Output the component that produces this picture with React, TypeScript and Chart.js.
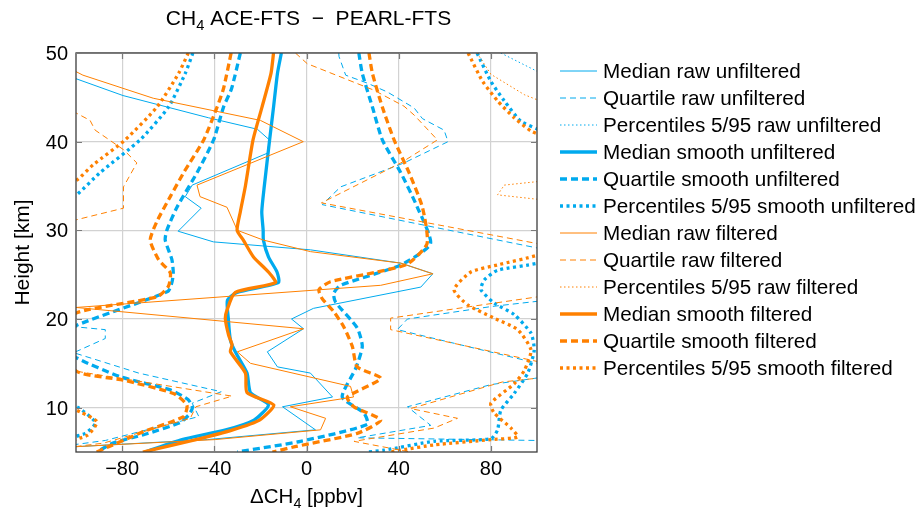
import { useEffect, useRef } from 'react';
import { Chart, registerables } from 'chart.js';
Chart.register(...registerables);

const BLUE = '#00AAEE';
const ORANGE = '#FF8000';
const FONT = '"Liberation Sans", Arial, Helvetica, sans-serif';

const xTickValues = [-80, -40, 0, 40, 80];
const xTickLabels = ['−80', '−40', '0', '40', '80'];
const yTickValues = [10, 20, 30, 40, 50];
const yTickLabels = ['10', '20', '30', '40', '50'];

const legendLabels = [
  'Median raw unfiltered',
  'Quartile raw unfiltered',
  'Percentiles 5/95 raw unfiltered',
  'Median smooth unfiltered',
  'Quartile smooth unfiltered',
  'Percentiles 5/95 smooth unfiltered',
  'Median raw filtered',
  'Quartile raw filtered',
  'Percentiles 5/95 raw filtered',
  'Median smooth filtered',
  'Quartile smooth filtered',
  'Percentiles 5/95 smooth filtered',
];

// ---- Median raw ----
const hMedRawU = [50, 48.0, 47.1, 45.2, 42.7, 41.4, 40.2, 38.7, 35.1, 33.8, 32.5, 29.9, 28.7, 27.8, 26.3, 25.1, 23.6, 21.2, 20.0, 18.9, 16.3, 14.6, 13.9, 11.2, 10.1, 7.5, 6.4, 5.6, 5];
const xMedRawU = [-125, -109.6, -100, -79.6, -42.6, -21.3, -16.1, -17.0, -49.6, -52.6, -45.7, -55.7, -40.4, 1.7, 40.9, 54.8, 49.6, 3.0, -6.5, -1.3, -17.0, -12.6, 1.7, 11.3, -10.4, 3.9, -43.0, -100, -115];
const hMedRawF = [50, 47.9, 47.5, 44.9, 42.4, 40.0, 35.1, 33.8, 32.6, 30.0, 28.9, 27.6, 26.3, 25.1, 23.8, 21.3, 18.9, 16.3, 15.0, 12.4, 11.2, 10.1, 8.8, 7.5, 6.4, 5.6, 5];
const xMedRawF = [-120, -100, -97, -66.5, -20, -1.4, -47.5, -46.2, -34.5, -30, -18.7, 1.7, 40.9, 54.8, 32.2, -100, -1.3, -30, -24.3, 19.1, 20.4, -7, 8.3, 6.1, -39.6, -100, -115];

// ---- Median smooth ----
const hMedSmU = [50, 47.7, 43.9, 40.2, 35, 32.1, 30, 28.9, 27, 25.3, 24.1, 23, 22.1, 20, 17.6, 16.3, 13.9, 11.7, 10.3, 8.6, 7.5, 6.4, 5];
const xMedSmU = [-10.9, -12.6, -14.3, -16, -18.3, -19.4, -18.8, -18.7, -16.5, -12.8, -12.2, -30.1, -34.3, -33.9, -33, -30.9, -25.8, -24.3, -16.5, -22.8, -35, -54, -70];
const hMedSmF = [50, 47.7, 43.9, 40.2, 35, 32.1, 30, 28.9, 27, 25.3, 24.1, 23, 21, 20, 18.2, 17.1, 16.3, 13.9, 11.7, 10.3, 8.6, 7.5, 6.4, 5];
const xMedSmF = [-14.3, -15.4, -19.3, -23.2, -26.5, -28.7, -30.1, -27.4, -23, -16.5, -13.5, -30.9, -34.5, -35.2, -33.8, -32.3, -33, -26.5, -25.8, -14.2, -20.4, -32, -48, -71];

// ---- Quartile smooth (left / right) ----
const hQSmUL = [50, 46, 43.9, 40.2, 36.5, 32.6, 30, 28.9, 26.7, 25.2, 24.1, 23.1, 19.3, 17.5, 15.6, 13.5, 12.0, 10.9, 10.0, 9.2, 8.3, 7.0, 6.0, 5];
const xQSmUL = [-28.7, -32.5, -36, -40.3, -47.5, -56.2, -60.6, -61.3, -58.4, -57.8, -58.4, -60.2, -99.6, -110, -99.6, -80.9, -59.1, -51.3, -49.5, -51, -55, -70, -84, -91];
const hQSmFL = [50, 46, 43.9, 40.2, 36.5, 33.8, 31.0, 28.9, 26.7, 25.2, 23.7, 22.5, 20.7, 18, 14.1, 13.1, 11.6, 10.3, 9.0, 7.3, 5];
const xQSmFL = [-32.7, -36, -38.8, -44.6, -53.3, -59.1, -64.9, -67.8, -64.2, -59.1, -59.9, -64.8, -99.6, -110, -99.7, -79.4, -57.7, -51.9, -53.3, -70.7, -91];
const hQSmUR = [50, 47.7, 43.9, 40.2, 36.5, 32.6, 28.5, 26.1, 23.8, 22.9, 21.9, 19.0, 16.9, 14.4, 11.2, 9.4, 8.1, 6.2, 5];
const xQSmUR = [22.7, 24.2, 28.6, 32.9, 40.9, 48.1, 53.8, 40.9, 14.8, 11.8, 12.6, 22, 24.2, 21.3, 15.5, 24.9, 26.4, -2.6, -30];
const hQSmFR = [50, 47.7, 43.9, 40.2, 36.5, 32.6, 28.5, 26.2, 25.3, 24.2, 23.3, 22.3, 20.8, 19.1, 16.9, 14.6, 13.3, 11.2, 10.1, 8.6, 7.1, 5.6, 5];
const xQSmFR = [27.1, 28.6, 32.9, 38, 44.5, 50.3, 52.3, 43.8, 30.7, 10.4, 5.4, 6.8, 11.9, 16.2, 19.9, 22, 32.2, 17.7, 20.6, 32.2, 22, -5, -14.8];

// ---- Percentiles smooth ----
const hPSmUL1 = [50, 47.7, 43.9, 40.2, 36.5, 34.0, 33];
const xPSmUL1 = [-49.3, -52.6, -59.9, -72.2, -89.6, -99.7, -106];
const hPSmUL2 = [11.2, 10.0, 8.3, 7.1, 6.4];
const xPSmUL2 = [-110, -99, -91.6, -96, -106];
const hPSmFL1 = [50, 47.7, 43.9, 40.2, 37.4, 35.8, 35];
const xPSmFL1 = [-51.3, -55.5, -64.9, -78.7, -92.5, -99, -104];
const hPSmFL2 = [10.8, 9.5, 8.4, 6.9, 6.0];
const xPSmFL2 = [-110, -98, -90.9, -95, -106];
const hPSmUR1 = [50, 46.8, 44.6, 42.3, 41.4, 40.8];
const xPSmUR1 = [74, 80, 85.8, 93, 100.3, 104];
const hPSmUR2 = [27, 26.3, 25.5, 24.4, 23.3, 21.8, 20.5, 18.4, 16.5, 13.9, 11.6, 9.7, 7.5, 6.5, 6.2, 5.2, 5];
const xPSmUR2 = [104, 100.3, 82.9, 77.1, 75.7, 81.4, 90.1, 97.4, 98.8, 96, 90.1, 84.3, 82.9, 80, 55.4, 33.6, 26.4];
const hPSmFR1 = [50, 46.8, 44.6, 42.7, 41.2, 40.5];
const xPSmFR1 = [70.1, 76.4, 82.9, 90.1, 97.4, 104];
const hPSmFR2 = [27.8, 27.2, 26.1, 25.3, 23.3, 21.6, 20.1, 18.8, 16.5, 14.2, 12.7, 10.5, 9.4, 7.7, 6.7, 6.4, 5.8, 5.2, 5];
const xPSmFR2 = [104, 100.3, 82.9, 71.3, 64, 69.9, 81.4, 91.6, 97.4, 94.5, 90.1, 80, 81.4, 88.7, 91.6, 80, 55.4, 40.9, 36.5];

// ---- Quartile raw ----
const hQRawUL = [19.5, 19.1, 18.8, 17.8, 16.2, 13.9, 11.8, 10.5, 9.0, 6.3, 5.5];
const xQRawUL = [-115, -99.6, -87.3, -87.3, -101, -72.8, -37, -49.6, -46.7, -87.3, -110];
const hQRawFL = [44, 43.2, 42.4, 41.3, 39.1, 37.6, 34.9, 32.5, 31.2, 30.5, 15, 14.1, 11.3, 10.1, 8.8, 6.0, 5.3];
const xQRawFL = [-110, -99.7, -93.9, -91.7, -79.4, -73.6, -79.4, -79.4, -99.7, -110, -115, -99.7, -32.3, -48, -50.4, -88.1, -110];
const hQRawUR = [50, 49.6, 47.5, 46.6, 45.6, 43.8, 42.6, 41.3, 40.0, 37.6, 34.9, 32.9, 28.0, 27.5, 23, 22, 21.4, 20.0, 18.8, 15.0, 14.0, 13.3, 12.6, 10.1, 8.0, 6.6, 6.3, 6.2];
const xQRawUR = [14, 14.1, 17, 26.4, 35.1, 46.7, 50.3, 59.7, 61.4, 42.3, 14.8, 6.8, 100.3, 115, 115, 100.3, 80, 43.8, 39.4, 100.3, 115, 98.8, 80, 43.8, 53.9, 22, 100.3, 115];
const hQRawFR = [50, 48.8, 45.8, 44.0, 43.0, 40.2, 37.6, 33.1, 28.5, 28, 23, 22.5, 20.1, 18.8, 15.2, 14.5, 13.6, 12.9, 9.9, 8.8, 7.7, 6.2, 5.0];
const xQRawFR = [-4.8, 0.3, 29.3, 42.3, 46.7, 56.8, 40.9, 6.5, 100.3, 115, 115, 100.3, 36.5, 36.5, 100.3, 115, 110, 85, 45.2, 65.5, 55.4, 20.6, 45];

// ---- Percentiles raw ----
const hPRawU = [50, 47.9, 47.5];
const xPRawU = [84.3, 100.3, 105];
const hPRawF = [50, 47.6, 45.3, 44.7, 44, 36, 35.5, 35.1, 34, 33.5, 33];
const xPRawF = [74, 80, 94.5, 100.3, 110, 110, 100.3, 85.8, 82.9, 100.3, 110];

type Style = { color: string; width: number; dash: number[] };
const THIN = 1;
const THICK = 3.3;
const styles: Style[] = [
  { color: BLUE, width: THIN, dash: [] },
  { color: BLUE, width: THIN, dash: [6, 4] },
  { color: BLUE, width: THIN, dash: [1.5, 2.5] },
  { color: BLUE, width: THICK, dash: [] },
  { color: BLUE, width: THICK, dash: [7, 4] },
  { color: BLUE, width: THICK, dash: [3, 3.5] },
  { color: ORANGE, width: THIN, dash: [] },
  { color: ORANGE, width: THIN, dash: [6, 4] },
  { color: ORANGE, width: THIN, dash: [1.5, 2.5] },
  { color: ORANGE, width: THICK, dash: [] },
  { color: ORANGE, width: THICK, dash: [7, 4] },
  { color: ORANGE, width: THICK, dash: [3, 3.5] },
];

const series = [
  { h: hMedRawU, x: xMedRawU, s: 0, smooth: false },
  { h: hQRawUL, x: xQRawUL, s: 1, smooth: false },
  { h: hQRawUR, x: xQRawUR, s: 1, smooth: false },
  { h: hPRawU, x: xPRawU, s: 2, smooth: false },
  { h: hMedSmU, x: xMedSmU, s: 3, smooth: true },
  { h: hQSmUL, x: xQSmUL, s: 4, smooth: true },
  { h: hQSmUR, x: xQSmUR, s: 4, smooth: true },
  { h: hPSmUL1, x: xPSmUL1, s: 5, smooth: true },
  { h: hPSmUL2, x: xPSmUL2, s: 5, smooth: true },
  { h: hPSmUR1, x: xPSmUR1, s: 5, smooth: true },
  { h: hPSmUR2, x: xPSmUR2, s: 5, smooth: true },
  { h: hMedRawF, x: xMedRawF, s: 6, smooth: false },
  { h: hQRawFL, x: xQRawFL, s: 7, smooth: false },
  { h: hQRawFR, x: xQRawFR, s: 7, smooth: false },
  { h: hPRawF, x: xPRawF, s: 8, smooth: false },
  { h: hMedSmF, x: xMedSmF, s: 9, smooth: true },
  { h: hQSmFL, x: xQSmFL, s: 10, smooth: true },
  { h: hQSmFR, x: xQSmFR, s: 10, smooth: true },
  { h: hPSmFL1, x: xPSmFL1, s: 11, smooth: true },
  { h: hPSmFL2, x: xPSmFL2, s: 11, smooth: true },
  { h: hPSmFR1, x: xPSmFR1, s: 11, smooth: true },
  { h: hPSmFR2, x: xPSmFR2, s: 11, smooth: true },
];

const overlayPlugin = {
  id: 'overlay',
  afterDatasetsDraw(chart: any) {
    const { ctx, chartArea: a, scales } = chart;
    const xs = scales.x;
    const ys = scales.y;
    ctx.save();
    // axis box
    ctx.setLineDash([]);
    ctx.strokeStyle = '#3c3c3c';
    ctx.lineWidth = 1.3;
    ctx.strokeRect(a.left, a.top, a.right - a.left, a.bottom - a.top);
    // inward ticks
    ctx.strokeStyle = '#7a7a7a';
    ctx.lineWidth = 1.2;
    const tl = 6;
    ctx.beginPath();
    xTickValues.forEach((v) => {
      const px = Math.round(xs.getPixelForValue(v)) + 0.5;
      ctx.moveTo(px, a.top); ctx.lineTo(px, a.top + tl);
      ctx.moveTo(px, a.bottom); ctx.lineTo(px, a.bottom - tl);
    });
    yTickValues.forEach((v) => {
      const py = Math.round(ys.getPixelForValue(v)) + 0.5;
      ctx.moveTo(a.left, py); ctx.lineTo(a.left + tl, py);
      ctx.moveTo(a.right, py); ctx.lineTo(a.right - tl, py);
    });
    ctx.stroke();

    // tick labels
    ctx.fillStyle = '#000';
    ctx.font = `20px ${FONT}`;
    ctx.textBaseline = 'alphabetic';
    ctx.textAlign = 'center';
    xTickValues.forEach((v, i) => {
      ctx.fillText(xTickLabels[i], xs.getPixelForValue(v), a.bottom + 23);
    });
    ctx.textAlign = 'right';
    yTickValues.forEach((v, i) => {
      ctx.fillText(yTickLabels[i], a.left - 8, ys.getPixelForValue(v) + 7);
    });

    // title with subscript
    const cx = (a.left + a.right) / 2 + 2;
    const drawSub = (parts: [string, boolean][], centerX: number, baseY: number, size: number) => {
      const big = `${size}px ${FONT}`;
      const small = `${size * 0.7}px ${FONT}`;
      let total = 0;
      parts.forEach(([t, sub]) => { ctx.font = sub ? small : big; total += ctx.measureText(t).width; });
      let xx = centerX - total / 2;
      ctx.textAlign = 'left';
      parts.forEach(([t, sub]) => {
        ctx.font = sub ? small : big;
        ctx.fillText(t, xx, baseY + (sub ? size * 0.25 : 0));
        xx += ctx.measureText(t).width;
      });
    };
    drawSub([['CH', false], ['4', true], [' ACE-FTS  −  PEARL-FTS', false]], cx, 25, 21);
    drawSub([['ΔCH', false], ['4', true], [' [ppbv]', false]], (a.left + a.right) / 2, 503, 20.5);

    // y title
    ctx.save();
    ctx.translate(29, (a.top + a.bottom) / 2);
    ctx.rotate(-Math.PI / 2);
    ctx.textAlign = 'center';
    ctx.font = `21px ${FONT}`;
    ctx.fillText('Height [km]', 0, 0);
    ctx.restore();

    // legend
    const lx0 = a.right + 23;
    const lx1 = lx0 + 37;
    legendLabels.forEach((lab, i) => {
      const y = 71 + i * 27;
      const st = styles[i];
      ctx.strokeStyle = st.color;
      ctx.lineWidth = st.width;
      ctx.setLineDash(st.dash);
      ctx.lineCap = 'butt';
      ctx.beginPath();
      ctx.moveTo(lx0, y);
      ctx.lineTo(lx1, y);
      ctx.stroke();
      ctx.setLineDash([]);
      ctx.fillStyle = '#000';
      ctx.font = `20.7px ${FONT}`;
      ctx.textAlign = 'left';
      ctx.fillText(lab, lx1 + 6, y + 7);
    });
    ctx.restore();
  },
};

export default function App() {
  const ref = useRef<HTMLCanvasElement>(null);
  useEffect(() => {
    const datasets = series.map((sr) => ({
      label: legendLabels[sr.s],
      data: sr.h.map((h, i) => ({ x: sr.x[i], y: h })),
      borderColor: styles[sr.s].color,
      backgroundColor: styles[sr.s].color,
      borderWidth: styles[sr.s].width,
      borderDash: styles[sr.s].dash,
      borderCapStyle: 'butt' as const,
      borderJoinStyle: 'round' as const,
      pointRadius: 0,
      pointHoverRadius: 0,
      showLine: true,
      fill: false,
      tension: sr.smooth ? 0.2 : 0,
      clip: 0,
      order: 100 - sr.s,
    }));
    const chart = new Chart(ref.current!, {
      type: 'scatter',
      data: { datasets },
      plugins: [overlayPlugin],
      options: {
        responsive: false,
        animation: false,
        events: [],
        layout: { padding: { left: 76, top: 53, right: 380, bottom: 59 } },
        elements: { line: { capBezierPoints: false } },
        plugins: { legend: { display: false }, tooltip: { enabled: false }, title: { display: false } },
        scales: {
          x: {
            type: 'linear',
            min: -100,
            max: 100,
            afterBuildTicks: (s: any) => { s.ticks = xTickValues.map((v) => ({ value: v })); },
            ticks: { display: false },
            grid: { color: '#d2d2d2', lineWidth: 1.2, drawTicks: false },
            border: { display: false },
          },
          y: {
            type: 'linear',
            min: 5,
            max: 50,
            afterBuildTicks: (s: any) => { s.ticks = yTickValues.map((v) => ({ value: v })); },
            ticks: { display: false },
            grid: { color: '#d2d2d2', lineWidth: 1.2, drawTicks: false },
            border: { display: false },
          },
        },
      },
    });
    return () => chart.destroy();
  }, []);
  return (
    <div style={{ position: 'fixed', left: 0, top: 0, width: 917, height: 511, background: '#fff' }}>
      <canvas ref={ref} width={917} height={511} />
    </div>
  );
}
